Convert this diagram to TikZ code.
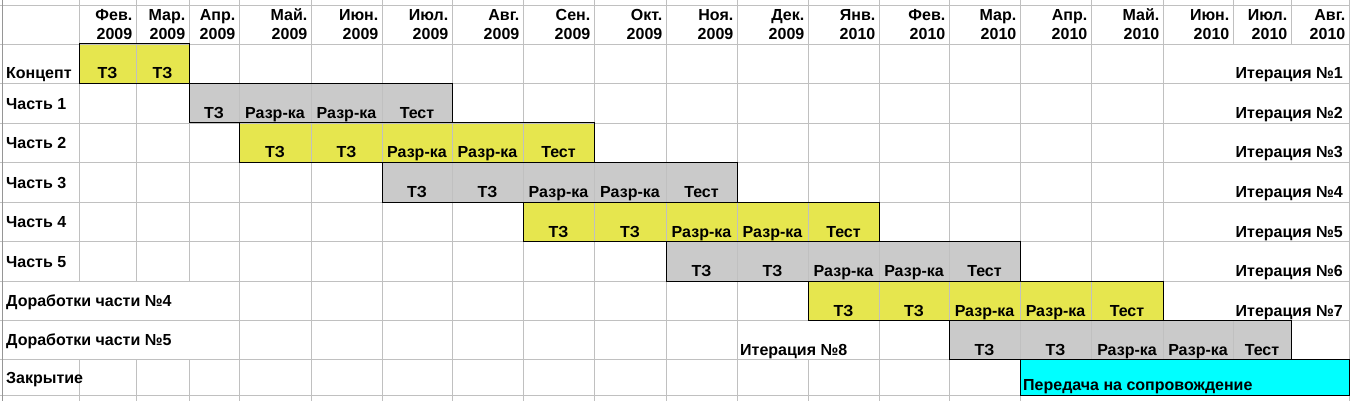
\documentclass[tikz,border=0pt]{standalone}
\usepackage{fontspec}
\setmainfont{Liberation Sans}
\definecolor{gridc}{RGB}{192,192,192}
\definecolor{hdrc}{RGB}{150,150,150}
\definecolor{baryel}{RGB}{230,230,78}
\definecolor{bargray}{RGB}{202,202,202}
\definecolor{barcyan}{RGB}{0,255,255}
\begin{document}
\begin{tikzpicture}[x=1pt,y=-1pt,
  gridline/.style={draw=gridc,line width=0.9pt},
  edgeline/.style={draw=hdrc,line width=0.9pt},
  barbox/.style={draw=black,line width=1pt},
  txt/.style={font=\bfseries\fontsize{16}{19}\selectfont,inner sep=0pt,text=black}]
\def\X{{3,79,136,189,239,311,382,452,523,594,666,737,808,879,949,1020,1091,1163,1233,1291,1349}}
\def\Y{{5,44,83.5,123,162.5,202,241.5,281,320.5,359.5,395}}
\def\YV{{0,44,83.5,123,162.5,202,241.5,281,320.5,359.5,401}}
\useasboundingbox (0,0) rectangle (1350,401);
\fill[white] (0,0) rectangle (1350,401);
% bar fills (columns a..b, column k spans X[k]..X[k+1])
\foreach \r/\a/\b/\c in {1/1/2/baryel,2/3/6/bargray,3/4/8/baryel,4/6/10/bargray,5/8/12/baryel,6/10/14/bargray,7/12/16/baryel,8/14/18/bargray,9/15/19/barcyan}{
  \pgfmathsetmacro\xa{\X[\a]}
  \pgfmathsetmacro\xb{\X[\b+1]}
  \pgfmathsetmacro\ya{\Y[\r]}
  \pgfmathsetmacro\yb{\Y[\r+1]}
  \fill[\c] (\xa,\ya) rectangle (\xb,\yb);
}
% horizontal grid
\foreach \i in {0,...,10}{
  \pgfmathsetmacro\yy{\Y[\i]}
  \draw[gridline] (0,\yy) -- (1350,\yy);
}
% vertical grid segments
\foreach \i/\p/\q in {1/0/7,1/9/10,2/0/7,2/9/10,3/0/7,3/9/10,4/0/10,5/0/10,6/0/10,7/0/10,8/0/10,9/0/10,10/0/10,11/0/10,12/0/8,12/9/10,13/0/10,14/0/10,15/0/10,16/0/9,17/0/9,18/0/1,18/8/9,19/0/1,19/8/9,20/0/10}{
  \pgfmathsetmacro\xx{\X[\i]}
  \pgfmathsetmacro\ya{\YV[\p]}
  \pgfmathsetmacro\yb{\YV[\q]}
  \draw[gridline] (\xx,\ya) -- (\xx,\yb);
}
\draw[edgeline] (2.5,0) -- (2.5,401);
% bar borders
\foreach \r/\a/\b in {1/1/2,2/3/6,3/4/8,4/6/10,5/8/12,6/10/14,7/12/16,8/14/18,9/15/19}{
  \pgfmathsetmacro\xa{\X[\a]}
  \pgfmathsetmacro\xb{\X[\b+1]}
  \pgfmathsetmacro\ya{\Y[\r]}
  \pgfmathsetmacro\yb{\Y[\r+1]}
  \draw[barbox] (\xa,\ya) rectangle (\xb,\yb);
}
% header
\foreach \m/\yr [count=\k] in {Фев./2009,Мар./2009,Апр./2009,Май./2009,Июн./2009,Июл./2009,Авг./2009,Сен./2009,Окт./2009,Ноя./2009,Дек./2009,Янв./2010,Фев./2010,Мар./2010,Апр./2010,Май./2010,Июн./2010,Июл./2010,Авг./2010}{
  \pgfmathsetmacro\rx{\X[\k+1]-3.5}
  \node[txt,anchor=base east] (m\k) at (\rx,21) {\m};
  \node[txt,anchor=base east] (y\k) at (\rx,39.5) {\yr};
}
% row labels
\node[txt,anchor=base west] (l1) at (6,78.5) {Концепт};
\foreach \r/\t in {2/Часть 1,3/Часть 2,4/Часть 3,5/Часть 4,6/Часть 5,7/Доработки части №4,8/Доработки части №5,9/Закрытие}{
  \pgfmathsetmacro\ya{\Y[\r]}
  \pgfmathsetmacro\yb{\Y[\r+1]}
  \pgfmathsetmacro\yy{(\ya+\yb)/2+5.8}
  \node[txt,anchor=base west] (l\r) at (6,\yy) {\t};
}
% bar cell texts
\foreach \r/\s/\L in {1/1/{ТЗ,ТЗ},2/3/{ТЗ,Разр-ка,Разр-ка,Тест},3/4/{ТЗ,ТЗ,Разр-ка,Разр-ка,Тест},4/6/{ТЗ,ТЗ,Разр-ка,Разр-ка,Тест},5/8/{ТЗ,ТЗ,Разр-ка,Разр-ка,Тест},6/10/{ТЗ,ТЗ,Разр-ка,Разр-ка,Тест},7/12/{ТЗ,ТЗ,Разр-ка,Разр-ка,Тест},8/14/{ТЗ,ТЗ,Разр-ка,Разр-ка,Тест}}{
  \pgfmathsetmacro\yb{\Y[\r+1]-4.5}
  \foreach \t [count=\k from \s] in \L {
    \pgfmathsetmacro\xa{\X[\k]}
    \pgfmathsetmacro\xb{\X[\k+1]}
    \pgfmathsetmacro\cx{(\xa+\xb)/2}
    \node[txt,anchor=base] (b\r-\k) at (\cx,\yb) {\t};
  }
}
% iteration labels
\foreach \r in {1,...,7}{
  \pgfmathsetmacro\yy{\Y[\r+1]-4.5}
  \node[txt,anchor=base east] (it\r) at (1343,\yy) {Итерация №\r};
}
\node[txt,anchor=base west] (it8) at (740,355) {Итерация №8};
\node[txt,anchor=base west] (close) at (1023,390.5) {Передача на сопровождение};
\end{tikzpicture}
\end{document}
